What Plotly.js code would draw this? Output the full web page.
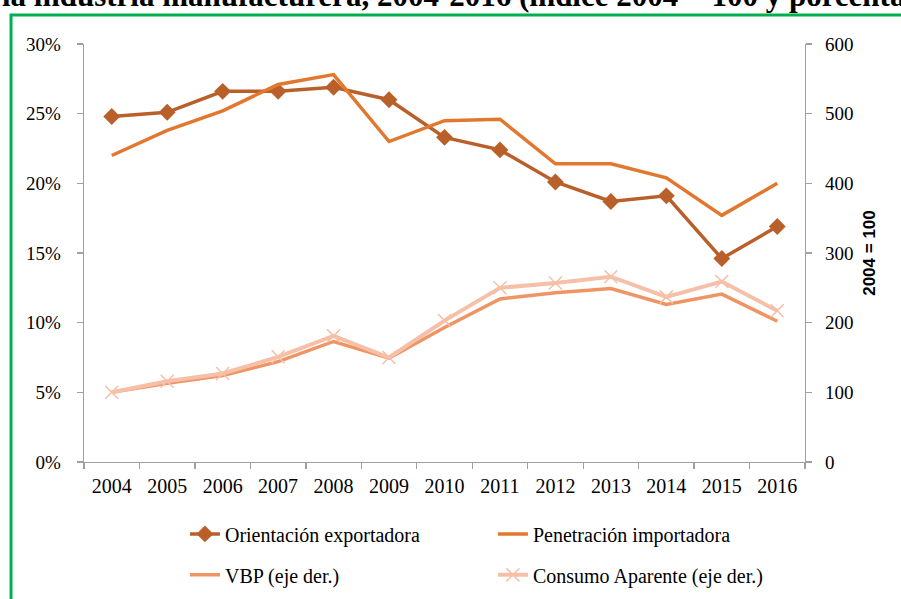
<!DOCTYPE html>
<html>
<head>
<meta charset="utf-8">
<script src="https://cdn.plot.ly/plotly-3.0.1.min.js"></script>
<style>html,body{margin:0;padding:0;background:#fff;}#chart{width:901px;height:599px;}</style>
</head>
<body>
<div id="chart"></div>
<script>
// ---- data ----
const years = ["2004","2005","2006","2007","2008","2009","2010","2011","2012","2013","2014","2015","2016"];
const orientacionExportadora = [0.248,0.251,0.266,0.266,0.269,0.260,0.233,0.224,0.201,0.187,0.191,0.146,0.169];
const penetracionImportadora = [0.220,0.238,0.252,0.271,0.278,0.230,0.245,0.246,0.214,0.214,0.204,0.177,0.200];
const vbp = [100,113,124,144,173,149,193,234,243,249,226,241,202];
const consumoAparente = [100,116,127,151,181,150,203,250,257,266,237,259,217];
const eventYears = ["2008","2015"];
const titleText = "la industria manufacturera, 2004-2016 (índice 2004 = 100 y porcentaje)";
const rightAxisTitle = "2004 = 100";

const serif = "Liberation Serif, Times New Roman, serif";
const traces = [
  {x: years, y: orientacionExportadora, name: "Orientación exportadora", type: "scatter", mode: "lines+markers",
   line: {color: "#B9602A", width: 3.5}, marker: {symbol: "diamond", size: 13, color: "#B9602A"}, legend: "legend"},
  {x: years, y: penetracionImportadora, name: "Penetración importadora", type: "scatter", mode: "lines",
   line: {color: "#E2782F", width: 3.5}, legend: "legend"},
  {x: years, y: vbp, name: "VBP (eje der.)", type: "scatter", mode: "lines", yaxis: "y2",
   line: {color: "#EF9463", width: 3.5}, legend: "legend2"},
  {x: years, y: consumoAparente, name: "Consumo Aparente (eje der.)", type: "scatter", mode: "lines+markers", yaxis: "y2",
   line: {color: "#F6C0A8", width: 4}, marker: {symbol: "x-thin", size: 13, color: "#F6C0A8", line: {color: "#F6C0A8", width: 1.5}}, legend: "legend2"}
];

const shapes = eventYears.map(yr => ({
  type: "line", xref: "x", yref: "paper", x0: yr, x1: yr, y0: 0, y1: 1.067,
  line: {color: "#000", width: 1.5, dash: "dash"}, layer: "above"
}));
shapes.push({type: "rect", xref: "paper", yref: "paper", x0: -0.1012, x1: 1.3, y0: -0.6, y1: 1.0694,
  line: {color: "#00B050", width: 3}, fillcolor: "rgba(0,0,0,0)", layer: "below"});

const layout = {
  width: 901, height: 599,
  margin: {l: 84, r: 96, t: 44, b: 137, autoexpand: false},
  paper_bgcolor: "#fff", plot_bgcolor: "#fff",
  showlegend: true,
  font: {family: serif, size: 19, color: "#000"},
  xaxis: {type: "category", range: [-0.5, 12.5], showgrid: false, zeroline: false, automargin: false,
    showline: true, linecolor: "#A0A0A0", linewidth: 1.3, ticks: "outside", tickson: "boundaries",
    ticklen: 6, tickcolor: "#A0A0A0", tickwidth: 1.3, tickfont: {family: serif, size: 20}, ticklabelstandoff: 6, fixedrange: true},
  yaxis: {range: [0, 0.3], dtick: 0.05, tickformat: ".0%", showgrid: false, zeroline: false, automargin: false,
    showline: true, linecolor: "#A0A0A0", linewidth: 1.3, ticks: "outside", ticklen: 6, tickcolor: "#A0A0A0", tickwidth: 1.3,
    tickfont: {family: serif, size: 19}, ticklabelstandoff: 12, fixedrange: true},
  yaxis2: {range: [0, 600], dtick: 100, overlaying: "y", side: "right", showgrid: false, zeroline: false, automargin: false,
    showline: true, linecolor: "#A0A0A0", linewidth: 1.3, ticks: "outside", ticklen: 6, tickcolor: "#A0A0A0", tickwidth: 1.3,
    tickfont: {family: serif, size: 19}, ticklabelstandoff: 9, fixedrange: true,
    title: {text: "<b>" + rightAxisTitle + "</b>", font: {family: "Liberation Sans, Arial, sans-serif", size: 17, color: "#000"}, standoff: 10}},
  legend: {orientation: "h", x: 0.14, xanchor: "left", y: -0.172, yanchor: "middle",
    entrywidth: 263, entrywidthmode: "pixels", font: {family: serif, size: 20}, bgcolor: "rgba(0,0,0,0)", borderwidth: 0, itemclick: false},
  legend2: {orientation: "h", x: 0.14, xanchor: "left", y: -0.27, yanchor: "middle",
    entrywidth: 263, entrywidthmode: "pixels", font: {family: serif, size: 20}, bgcolor: "rgba(0,0,0,0)", borderwidth: 0, itemclick: false},
  shapes: shapes,
  annotations: [{text: "<b>" + titleText + "</b>", xref: "paper", yref: "paper", x: -0.1165, xanchor: "left",
    y: 1.069, yanchor: "bottom", showarrow: false, align: "left", font: {family: serif, size: 31, color: "#000"}}],
  hovermode: false
};
Plotly.newPlot("chart", traces, layout, {staticPlot: true, displayModeBar: false});
</script>
</body>
</html>
